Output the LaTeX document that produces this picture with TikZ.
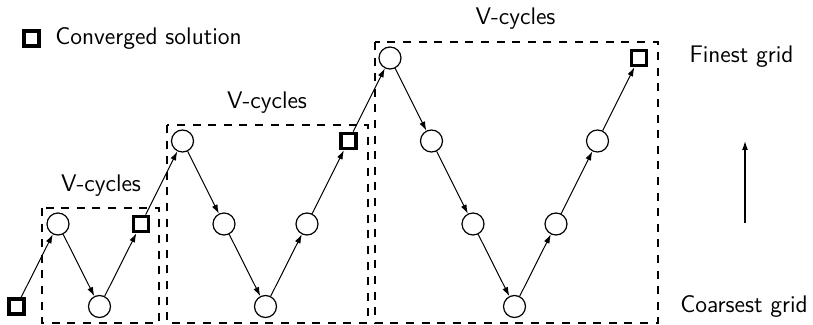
\documentclass[tikz,border=0pt]{standalone}
\usetikzlibrary{arrows.meta}
\begin{document}
\begin{tikzpicture}[x=0.5pt,y=-0.5pt,
  grid/.style={circle,draw,line width=0.6pt,minimum size=11pt,inner sep=0pt},
  conv/.style={rectangle,draw,line width=1.8pt,minimum size=7.5pt,inner sep=0pt},
  flow/.style={line width=0.5pt,-{Latex[length=4.5pt,width=3pt]}},
  cyclebox/.style={draw,dash pattern=on 4pt off 3.8pt,line width=0.6pt,inner sep=0pt},
  lbl/.style={font=\fontsize{12}{14}\selectfont\sffamily,inner sep=0pt}]
\useasboundingbox (0,0) rectangle (813,325);
% dashed boxes
\draw[cyclebox] (42,208) rectangle (159,323);
\draw[cyclebox] (167,125) rectangle (368,323);
\draw[cyclebox] (375,42) rectangle (658,323);
% labels
\node[lbl] (v1) at (101,186) {V-cycles};
\node[lbl] (v2) at (267,103) {V-cycles};
\node[lbl] (v3) at (515.5,19) {V-cycles};
% legend
\node[conv] (leg) at (31.5,38.5) {};
\node[lbl,anchor=west] (legt) at (55,38.5) {Converged solution};
% nodes
\node[conv] (s0) at (16.5,306.5) {};
\node[grid] (a1) at (58,224) {};
\node[grid] (a2) at (99.5,306.5) {};
\node[conv] (s1) at (141,224) {};
\node[grid] (b1) at (182.5,141) {};
\node[grid] (b2) at (224,224) {};
\node[grid] (b3) at (265.5,306.5) {};
\node[grid] (b4) at (307,224) {};
\node[conv] (s2) at (348.5,141) {};
\node[grid] (c1) at (390,58) {};
\node[grid] (c2) at (431.5,141) {};
\node[grid] (c3) at (473,224) {};
\node[grid] (c4) at (514.5,306.5) {};
\node[grid] (c5) at (556,224) {};
\node[grid] (c6) at (597.5,141) {};
\node[conv] (s3) at (639,58) {};
% connectors
\draw[flow] (s0) -- (a1);
\draw[flow] (a1) -- (a2);
\draw[flow] (a2) -- (s1);
\draw[flow] (s1) -- (b1);
\draw[flow] (b1) -- (b2);
\draw[flow] (b2) -- (b3);
\draw[flow] (b3) -- (b4);
\draw[flow] (b4) -- (s2);
\draw[flow] (s2) -- (c1);
\draw[flow] (c1) -- (c2);
\draw[flow] (c2) -- (c3);
\draw[flow] (c3) -- (c4);
\draw[flow] (c4) -- (c5);
\draw[flow] (c5) -- (c6);
\draw[flow] (c6) -- (s3);
% grid levels
\node[lbl] (fine) at (741.5,57) {Finest grid};
\node[lbl] (coarse) at (744,307) {Coarsest grid};
\coordinate (up0) at (745,223);
\coordinate (up1) at (745,141);
\draw[flow,line width=0.6pt] (up0) -- (up1);
\end{tikzpicture}
\end{document}
